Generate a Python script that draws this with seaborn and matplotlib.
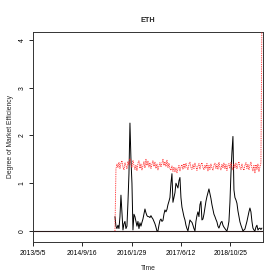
import seaborn as sns
import matplotlib.pyplot as plt
import pandas as pd

# ETH: degree of market efficiency, 10-day samples from launch
start_date = "2015-08-14"
end_date = "2019-09-13"

black_values = [
    0.30, 0.10, 0.05, 0.12, 0.05, 0.30, 0.75, 0.40, 0.02, 0.15,
    0.20, 0.05, 0.10, 0.60, 1.20, 2.26, 1.50, 1.00, 0.02, 0.35,
    0.30, 0.20, 0.10, 0.20, 0.05, 0.17, 0.10, 0.18, 0.25, 0.35,
    0.46, 0.38, 0.32, 0.30, 0.30, 0.28, 0.32, 0.28, 0.25, 0.20,
    0.15, 0.08, 0.00, 0.00, 0.12, 0.22, 0.25, 0.20, 0.22, 0.35,
    0.44, 0.40, 0.45, 0.55, 0.62, 0.70, 1.00, 1.20, 0.60, 0.70,
    0.80, 1.00, 0.95, 0.90, 1.05, 1.12, 0.70, 0.50, 0.40, 0.30,
    0.23, 0.12, 0.05, 0.00, 0.12, 0.23, 0.20, 0.18, 0.12, 0.05,
    0.00, 0.20, 0.32, 0.40, 0.30, 0.55, 0.62, 0.23, 0.25, 0.35,
    0.48, 0.62, 0.72, 0.80, 0.88, 0.78, 0.68, 0.55, 0.45, 0.35,
    0.30, 0.24, 0.19, 0.10, 0.06, 0.12, 0.18, 0.20, 0.12, 0.08,
    0.05, 0.02, 0.00, 0.08, 0.20, 0.60, 1.20, 1.65, 1.98, 0.86,
    0.70, 0.65, 0.58, 0.42, 0.30, 0.19, 0.12, 0.06, 0.00, 0.02,
    0.04, 0.12, 0.20, 0.30, 0.40, 0.48, 0.40, 0.20, 0.06, 0.02,
    0.00, 0.08, 0.12, 0.02, 0.05, 0.06, 0.03, 0.06,
]

red_values = [
    0.00,
    1.30, 1.40, 1.33, 1.44, 1.31, 1.42, 1.47, 1.34, 1.28, 1.43,
    1.37, 1.30, 1.46, 1.38, 1.52, 1.40, 1.33, 1.48, 1.37, 1.29,
    1.38, 1.26, 1.42, 1.47, 1.31, 1.40, 1.28, 1.37, 1.45, 1.32,
    1.50, 1.37, 1.46, 1.34, 1.43, 1.31, 1.40, 1.47, 1.35, 1.44,
    1.31, 1.40, 1.28, 1.36, 1.43, 1.34, 1.42, 1.50, 1.37, 1.45,
    1.35, 1.48, 1.33, 1.42, 1.30, 1.27, 1.36, 1.25, 1.34, 1.24,
    1.32, 1.22, 1.31, 1.37, 1.26, 1.34, 1.39, 1.29, 1.41, 1.32,
    1.42, 1.34, 1.28, 1.40, 1.44, 1.33, 1.29, 1.39, 1.31, 1.42,
    1.35, 1.27, 1.36, 1.41, 1.30, 1.39, 1.43, 1.33, 1.28, 1.38,
    1.31, 1.41, 1.26, 1.37, 1.29, 1.40, 1.32, 1.27, 1.38, 1.42,
    1.31, 1.39, 1.29, 1.44, 1.33, 1.28, 1.40, 1.32, 1.42, 1.30,
    1.39, 1.27, 1.37, 1.41, 1.31, 1.43, 1.34, 1.28, 1.40, 1.32,
    1.42, 1.30, 1.39, 1.45, 1.33, 1.29, 1.40, 1.32, 1.27, 1.38,
    1.43, 1.31, 1.40, 1.28, 1.38, 1.44, 1.32, 1.26, 1.37, 1.22,
    1.39, 1.29, 1.40, 1.24, 1.35, 1.42, 4.60,
]

tick_dates = ["2013-05-05", "2014-09-16", "2016-01-29", "2017-06-12", "2018-10-25"]
tick_labels = ["2013/5/5", "2014/9/16", "2016/1/29", "2017/6/12", "2018/10/25"]
y_ticks = [0, 1, 2, 3, 4]

dates = pd.date_range(start_date, end_date, periods=len(black_values))
df = pd.DataFrame({"Time": dates, "black": black_values, "red": red_values})

sns.set_theme(style="ticks")
plt.rcParams["font.family"] = ["Liberation Sans", "DejaVu Sans"]

fig = plt.figure(figsize=(2.8, 2.8), dpi=100)
ax = fig.add_axes([0.118, 0.136, 0.821, 0.75])

# zero baseline across the whole period
ax.axhline(0, color="#2a1a1a", lw=0.8, zorder=1)
sns.lineplot(data=df, x="Time", y="black", ax=ax, color="black", lw=0.7, zorder=3)
sns.lineplot(data=df, x="Time", y="red", ax=ax, color="#ff2020", lw=0.65,
             linestyle=(0, (1, 1)), zorder=4)

ax.set_xlim(pd.Timestamp("2013-05-05"), pd.Timestamp("2019-09-23"))
ax.set_ylim(-0.23, 4.17)
ax.set_xticks(pd.to_datetime(tick_dates))
ax.set_xticklabels(tick_labels)
ax.set_yticks(y_ticks)
ax.set_yticklabels([str(v) for v in y_ticks], rotation=90, va="center")
ax.tick_params(labelsize=4.9, length=3, width=0.6, pad=2.5, colors="black")

for s in ax.spines.values():
    s.set_visible(True)
    s.set_linewidth(0.7)
    s.set_color("#333333")

ax.set_title("ETH", fontsize=5.2, fontweight="bold", pad=7)
ax.set_xlabel("Time", fontsize=4.9, labelpad=6)
ax.set_ylabel("Degree of Market Efficiency", fontsize=4.9, labelpad=3)

fig.savefig("out.png", dpi=100)
